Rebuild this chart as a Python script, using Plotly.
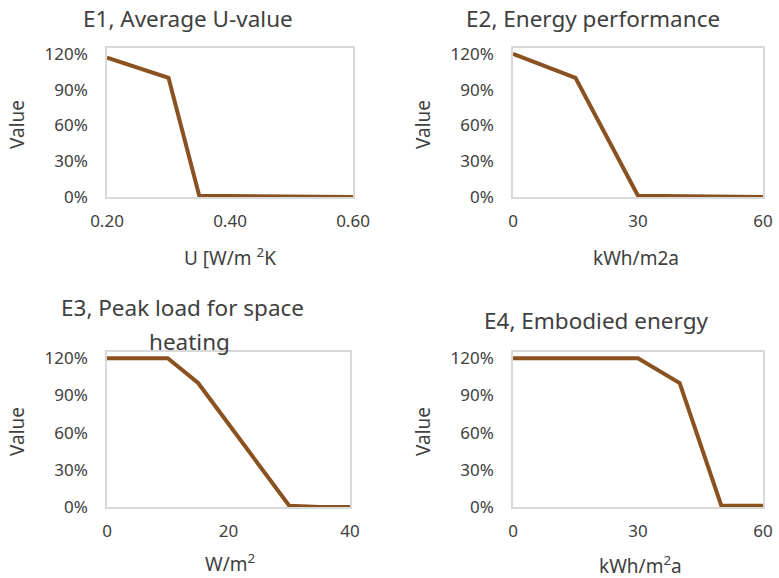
import plotly.graph_objects as go

W, H = 779, 578

# Data
e1_x = [0.20, 0.30, 0.35, 0.50, 0.60]
e1_y = [1.17, 1.00, 0.01, 0.00, 0.00]
e2_x = [0, 15, 30, 60]
e2_y = [1.20, 1.00, 0.01, 0.00]
e3_x = [0, 10, 15, 30, 35, 40]
e3_y = [1.20, 1.20, 1.00, 0.01, 0.00, 0.00]
e4_x = [0, 30, 40, 50, 60]
e4_y = [1.20, 1.20, 1.00, 0.01, 0.01]

y_ticks = [0, 0.3, 0.6, 0.9, 1.2]
y_labels = ["0%", "30%", "60%", "90%", "120%"]

titles = [["E1, Average U-value"], ["E2, Energy performance"],
          ["E3, Peak load for space", "heating"], ["E4, Embodied energy"]]
x_titles = ["U [W/m <sup>2</sup>K", "kWh/m2a", "W/m<sup>2</sup>", "kWh/m<sup>2</sup>a"]
x_tickvals = [[0.2, 0.4, 0.6], [0, 30, 60], [0, 20, 40], [0, 30, 60]]
x_ticktext = [["0.20", "0.40", "0.60"], ["0", "30", "60"], ["0", "20", "40"], ["0", "30", "60"]]
x_ranges = [[0.2, 0.6], [0, 60], [0, 40], [0, 60]]

LINE = "#8A5220"
TXT = "#404040"
FONT = "Noto Sans"

# plot boxes in window pixels (left, right, top, bottom)
boxes = [(107, 353, 48, 197), (513, 763, 48, 197),
         (107, 350, 352, 507), (513, 763, 352, 507)]
title_pos = [[(188, 18)], [(593, 18)], [(182, 308), (189, 341)], [(596, 320)]]
xt_pos = [(230, 257), (636, 258), (230, 563), (640, 565)]
yt_pos = [(17, 125), (423, 125), (17, 432), (423, 432)]

data = [(e1_x, e1_y), (e2_x, e2_y), (e3_x, e3_y), (e4_x, e4_y)]


def px(x):
    return x / W


def py(y):
    return 1 - y / H


fig = go.Figure()
annotations = []
for i, ((xs, ys), box) in enumerate(zip(data, boxes)):
    n = "" if i == 0 else str(i + 1)
    fig.add_trace(go.Scatter(x=xs, y=ys, mode="lines",
                             line=dict(color=LINE, width=4),
                             xaxis="x" + n, yaxis="y" + n, showlegend=False,
                             cliponaxis=False))
    l, r, t, b = box
    fig.layout["xaxis" + n] = dict(
        domain=[px(l), px(r)], anchor="y" + n, range=x_ranges[i],
        tickvals=x_tickvals[i], ticktext=x_ticktext[i], automargin=False,
        showgrid=False, zeroline=False, showline=True, mirror=True,
        linecolor="#D9D9D9", linewidth=1.5,
        ticks="outside", ticklen=8, tickcolor="rgba(0,0,0,0)",
        tickfont=dict(family=FONT, size=17, color=TXT))
    fig.layout["yaxis" + n] = dict(
        domain=[py(b), py(t)], anchor="x" + n, range=[0, 1.25],
        tickvals=y_ticks, ticktext=y_labels, automargin=False,
        showgrid=False, zeroline=False, showline=True, mirror=True,
        linecolor="#D9D9D9", linewidth=1.5,
        ticks="outside", ticklen=14, tickcolor="rgba(0,0,0,0)",
        tickfont=dict(family=FONT, size=17, color=TXT))
    for txt, (tx, ty) in zip(titles[i], title_pos[i]):
        annotations.append(dict(text=txt, x=px(tx), y=py(ty), xref="paper", yref="paper",
                                showarrow=False, xanchor="center", yanchor="middle",
                                font=dict(family=FONT, size=22.5, color=TXT)))
    ax, ay = xt_pos[i]
    annotations.append(dict(text=x_titles[i], x=px(ax), y=py(ay), xref="paper", yref="paper",
                            showarrow=False, xanchor="center", yanchor="middle",
                            font=dict(family=FONT, size=19, color=TXT)))
    vx, vy = yt_pos[i]
    annotations.append(dict(text="Value", x=px(vx), y=py(vy), xref="paper", yref="paper",
                            showarrow=False, xanchor="center", yanchor="middle", textangle=-90,
                            font=dict(family=FONT, size=19, color=TXT)))

fig.update_layout(width=W, height=H, margin=dict(l=0, r=0, t=0, b=0, pad=0, autoexpand=False),
                  paper_bgcolor="white", plot_bgcolor="white",
                  annotations=annotations)

fig.write_html("out.html", config={"displayModeBar": False},
               post_script="document.body.style.margin='0';document.body.style.overflow='hidden';")
